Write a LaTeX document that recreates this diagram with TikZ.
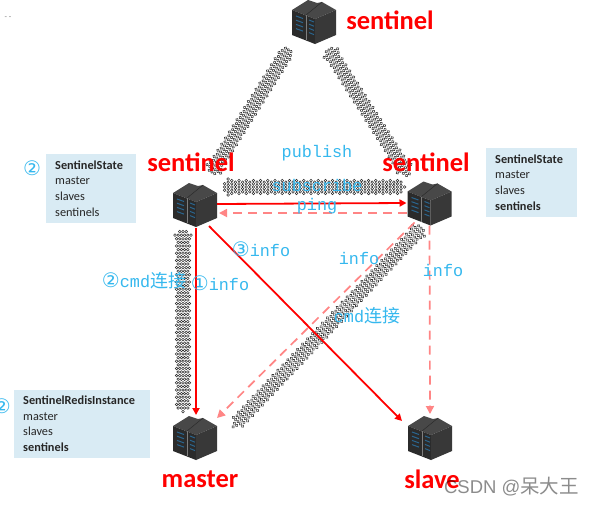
\documentclass[tikz,border=0pt]{standalone}
\usepackage{fontspec}
\setmainfont{Carlito}
\newfontfamily\monof{Liberation Mono}
\newfontfamily\cjkf{Noto Sans CJK SC}
\newfontfamily\circf{DejaVu Sans}
\newfontfamily\wmf{Liberation Sans}
\usetikzlibrary{arrows.meta,decorations.markings,calc}
\definecolor{lblue}{HTML}{35B8EE}
\definecolor{boxblue}{HTML}{D9EBF4}
\definecolor{pinkr}{HTML}{FF8585}
\definecolor{srvtop}{HTML}{484848}
\definecolor{srvfront}{HTML}{2B2B2B}
\definecolor{srvside}{HTML}{383838}
\definecolor{srvled}{HTML}{2A6690}
\tikzset{
  srv/.style={minimum width=44pt,minimum height=44pt,inner sep=0pt,outer sep=0pt},
  serverico/.pic={
    \fill[srvtop] (-22,-12)--(-6,-22)--(3,-19)--(8,-20)--(22,-12)--(1,-3)--cycle;
    \fill[srvfront] (-22,-12)--(1,-3)--(1,22)--(-22,13)--cycle;
    \fill[srvside] (1,-3)--(22,-12)--(22,13)--(1,22)--cycle;
    \draw[srvtop!70!white,line width=.5pt] (-8,-7)--(-8,18);
    \draw[srvfront,line width=.5pt] (-8,-7)--(8,-20);
    \foreach \r in {0,4.2,8.4,12.6}{
      \draw[srvled,line width=1pt] (-18,-6+\r)--(-11,-3.5+\r);
      \draw[srvled,line width=1pt] (-5,-2+\r)--(0,0+\r);
    }
  },
  hatch/.style={postaction={decorate,decoration={markings,
    mark=between positions 0 and 1 step 3.6pt with {
      \pgfmathsetmacro\dd{\pgfkeysvalueof{/pgf/decoration/mark info/distance from start}}
      \pgfmathsetmacro\ee{min(\dd,\pgfdecoratedpathlength-\dd)}
      \pgfmathsetmacro\hw{\ee<9 ? 1+\ee*1.0 : 6.5}
      \pgfmathsetmacro\st{mod(\pgfkeysvalueof{/pgf/decoration/mark info/sequence number},2)*1.6}
      \foreach \k in {-4,...,3}{
        \pgfmathsetmacro\yy{\k*3.2+\st}
        \pgfmathsetmacro\ok{abs(\yy)<=\hw ? 1 : 0}
        \ifdim\ok pt>0.5pt
          \draw[black!80,line width=.55pt] (0,\yy) circle[radius=1.35pt];
        \fi
      }
    }}}},
  redline/.style={draw=red,line width=1.8pt,-{Triangle[length=7pt,width=7pt]}},
  pinkline/.style={draw=pinkr,line width=1.7pt,dash pattern=on 9pt off 6pt,-{Triangle[length=8pt,width=8pt]}},
  redtitle/.style={text=red,font=\fontsize{26.5}{26.5}\selectfont\bfseries,inner sep=0pt},
  flowlabel/.style={text=lblue,font=\fontsize{16.8}{16.8}\monof,inner sep=0pt},
  infobox/.style={fill=boxblue,inner sep=0pt,anchor=north west},
  boxtext/.style={text=black!85,font=\fontsize{12.3}{12.3}\selectfont,inner sep=0pt,anchor=base west},
}
\newcommand{\cjkword}[1]{{\cjkf\fontsize{18}{18}\selectfont #1}}
\newcommand{\circnum}[1]{{\circf\fontsize{20}{20}\selectfont #1}}
\begin{document}
\begin{tikzpicture}[x=1pt,y=-1pt]
\useasboundingbox (0,0) rectangle (593,506);
\clip (0,0) rectangle (593,506);
\fill[white] (0,0) rectangle (593,506);

% servers
\node[srv] (sT) at (314,22) {};
\node[srv] (sL) at (195,205) {};
\node[srv] (sR) at (429.5,203.5) {};
\node[srv] (sM) at (195,438) {};
\node[srv] (sS) at (430,438) {};

% hatched connectors
\path[hatch] ($(sL)+(15,-30)$) -- ($(sT)+(-24,25)$);
\path[hatch] ($(sT)+(13,25)$) -- ($(sR)+(-21,-28)$);
\path[hatch] ($(sL)+(26,-18)$) -- ($(sR)+(-24,-16.5)$);
\path[hatch] ($(sL)+(-12,23)$) -- ($(sM)+(-12,-26)$);
\path[hatch] ($(sR)+(-6,22)$) -- ($(sM)+(38,-11)$);

% info boxes
\fill[infobox] (46,154) rectangle (136,223);
\fill[infobox] (486,148) rectangle (577,217);
\fill[infobox] (14,390) rectangle (150,458);

\node[boxtext] (t1a) at (55,169) {\bfseries SentinelState};
\node[boxtext] (t1b) at (55,184.5) {master};
\node[boxtext] (t1c) at (55,200) {slaves};
\node[boxtext] (t1d) at (55,216) {sentinels};
\node[boxtext] (t2a) at (495,163) {\bfseries SentinelState};
\node[boxtext] (t2b) at (495,178.5) {master};
\node[boxtext] (t2c) at (495,194) {slaves};
\node[boxtext] (t2d) at (495,210) {\bfseries sentinels};
\node[boxtext] (t3a) at (23,404) {\bfseries SentinelRedisInstance};
\node[boxtext] (t3b) at (23,420) {master};
\node[boxtext] (t3c) at (23,435.5) {slaves};
\node[boxtext] (t3d) at (23,451) {\bfseries sentinels};

% server icons
\pic at (sT) {serverico};
\pic at (sL) {serverico};
\pic at (sR) {serverico};
\pic at (sM) {serverico};
\pic at (sS) {serverico};

% red and pink connectors
\draw[redline] ($(sL)+(22,-1)$) -- ($(sR)+(-23,-0.5)$);
\draw[pinkline] ($(sR)+(-23,9.5)$) -- ($(sL)+(24,8)$);
\draw[redline] ($(sL)+(1,23)$) -- ($(sM)+(1,-23)$);
\draw[redline] ($(sL)+(14,21)$) -- ($(sS)+(-28,-17)$);
\draw[pinkline] ($(sR)+(0,22)$) -- ($(sS)+(0,-24)$);
\draw[pinkline] ($(sR)+(-15,19)$) -- ($(sM)+(22,-20)$);

% titles
\node[redtitle] (nT) at (390,20) {sentinel};
\node[redtitle] (nL) at (191,162) {sentinel};
\node[redtitle] (nR) at (426,162) {sentinel};
\node[redtitle] (nM) at (200,479) {master};
\node[redtitle] (nS) at (432,479) {slave};

% flow labels
\node[flowlabel] (l1) at (317,153) {publish};
\node[flowlabel] (l2) at (317,185) {subscribe};
\node[flowlabel] (l3) at (317,206) {ping};
\node[flowlabel] (l4) at (359,258) {info};
\node[flowlabel] (l5) at (443,270) {info};
\node[flowlabel] (l6) at (367,316) {cmd\cjkword{连接}};
\node[flowlabel] (l7) at (261,249) {\circnum{③}info};
\node[flowlabel] (l8) at (144,281) {\circnum{②}cmd\cjkword{连接}};
\node[flowlabel] (l9) at (220,283) {\circnum{①}info};
\node[flowlabel] (c1) at (32,168) {\circnum{②}};
\node[flowlabel,anchor=east] (c2) at (11,406) {\circnum{②}};

% top-left marks and watermark
\node[text=gray,font=\fontsize{8}{8}\selectfont,inner sep=0pt] (mk) at (8,18) {- -};
\node[text=black,opacity=.45,font=\fontsize{18.5}{18.5}\wmf,inner sep=0pt] (wm) at (511.5,487) {CSDN @{\cjkf\fontsize{19.5}{19.5}\selectfont 呆大王}};
\end{tikzpicture}
\end{document}
